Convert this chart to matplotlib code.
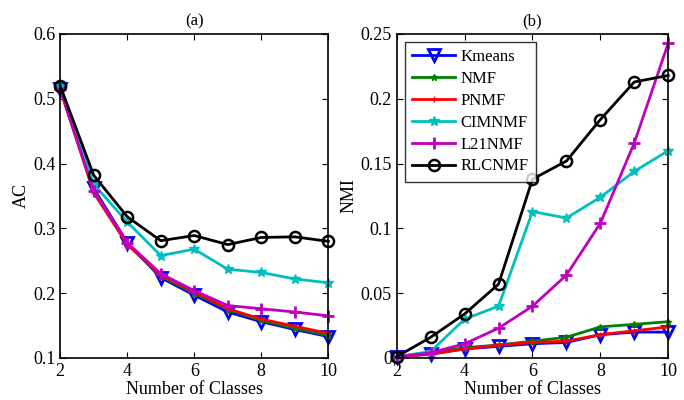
import numpy as np
import matplotlib.pyplot as plt

plt.rcParams['font.family'] = ['Liberation Serif', 'DejaVu Serif']

classes = [2, 3, 4, 5, 6, 7, 8, 9, 10]

# AC values
ac_kmeans = [0.515, 0.362, 0.278, 0.224, 0.197, 0.171, 0.156, 0.144, 0.133]
ac_nmf = [0.515, 0.360, 0.276, 0.226, 0.200, 0.175, 0.158, 0.146, 0.135]
ac_pnmf = [0.515, 0.355, 0.275, 0.228, 0.202, 0.176, 0.160, 0.149, 0.138]
ac_cimnmf = [0.520, 0.368, 0.310, 0.258, 0.268, 0.237, 0.232, 0.222, 0.216]
ac_l21nmf = [0.515, 0.358, 0.278, 0.230, 0.204, 0.181, 0.176, 0.171, 0.165]
ac_rlcnmf = [0.520, 0.382, 0.318, 0.281, 0.289, 0.275, 0.286, 0.287, 0.280]

# NMI values
nmi_kmeans = [0.001, 0.003, 0.007, 0.009, 0.011, 0.012, 0.018, 0.020, 0.020]
nmi_nmf = [0.001, 0.004, 0.008, 0.010, 0.013, 0.016, 0.024, 0.026, 0.028]
nmi_pnmf = [0.001, 0.003, 0.007, 0.010, 0.012, 0.013, 0.018, 0.021, 0.024]
nmi_cimnmf = [0.001, 0.005, 0.030, 0.040, 0.113, 0.108, 0.124, 0.144, 0.160]
nmi_l21nmf = [0.001, 0.004, 0.011, 0.023, 0.040, 0.064, 0.104, 0.166, 0.243]
nmi_rlcnmf = [0.001, 0.016, 0.034, 0.057, 0.138, 0.152, 0.184, 0.213, 0.218]

names = ['Kmeans', 'NMF', 'PNMF', 'CIMNMF', 'L21NMF', 'RLCNMF']
styles = [
    dict(color='blue', marker='v', markersize=9, markerfacecolor='none', markeredgewidth=2),
    dict(color='green', marker='*', markersize=5),
    dict(color='red', marker='+', markersize=4),
    dict(color='#00bfbf', marker='*', markersize=7),
    dict(color='#bf00bf', marker='+', markersize=8, markeredgewidth=2),
    dict(color='black', marker='o', markersize=8, markerfacecolor='none', markeredgewidth=1.8),
]


def arrange_axes(ax, ylim, yticks, ylabel, title):
    ax.set_xlim(2, 10)
    ax.set_ylim(*ylim)
    ax.set_xticks([2, 4, 6, 8, 10])
    ax.set_yticks(yticks)
    ax.set_yticklabels([('%g' % t) for t in yticks])
    ax.tick_params(direction='in', top=True, right=True, labelsize=13, length=4)
    for s in ax.spines.values():
        s.set_linewidth(1.2)
    ax.set_xlabel('Number of Classes', fontsize=13, labelpad=1)
    ax.set_ylabel(ylabel, fontsize=13, labelpad=2)
    ax.set_title(title, fontsize=12, pad=6)


fig = plt.figure(figsize=(6.84, 4.0), dpi=100)
ax1 = fig.add_axes([0.088, 0.105, 0.392, 0.81])
ax2 = fig.add_axes([0.580, 0.105, 0.397, 0.81])

ac_data = [ac_kmeans, ac_nmf, ac_pnmf, ac_cimnmf, ac_l21nmf, ac_rlcnmf]
nmi_data = [nmi_kmeans, nmi_nmf, nmi_pnmf, nmi_cimnmf, nmi_l21nmf, nmi_rlcnmf]

for name, vals, st in zip(names, ac_data, styles):
    ax1.plot(classes, vals, linewidth=2, label=name, clip_on=False, **st)
for name, vals, st in zip(names, nmi_data, styles):
    ax2.plot(classes, vals, linewidth=2, label=name, clip_on=False, **st)

arrange_axes(ax1, (0.1, 0.6), [0.1, 0.2, 0.3, 0.4, 0.5, 0.6], 'AC', '(a)')
arrange_axes(ax2, (0, 0.25), [0, 0.05, 0.1, 0.15, 0.2, 0.25], 'NMI', '(b)')

leg = ax2.legend(loc='upper left', fontsize=12, fancybox=False, edgecolor='black',
                 handlelength=2.6, borderpad=0.42, labelspacing=0.35, handletextpad=0.3,
                 borderaxespad=0.5)
leg.get_frame().set_linewidth(1.0)

plt.savefig('out.png', dpi=100)
